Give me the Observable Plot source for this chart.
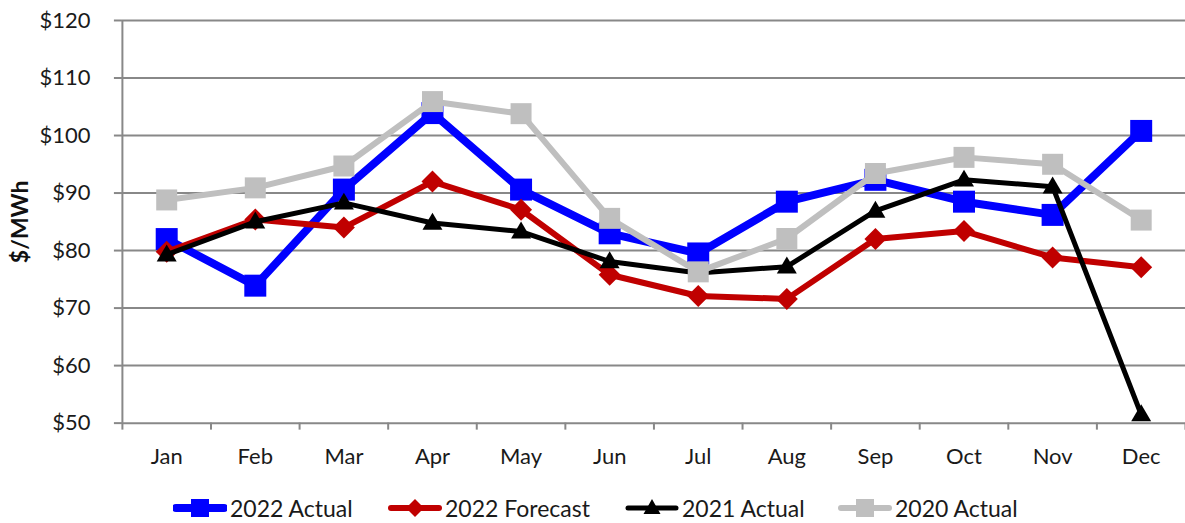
<!DOCTYPE html>
<html>
<head>
<meta charset="utf-8">
<script src="https://cdn.jsdelivr.net/npm/d3@7"></script>
<script src="https://cdn.jsdelivr.net/npm/@observablehq/plot@0.6"></script>
<style>
  html, body { margin: 0; padding: 0; background: #fff; overflow: hidden; }
  #wrap { position: relative; width: 1185px; }
  #legend { position: relative; height: 53px; font-family: Lato, "Open Sans", sans-serif; font-size: 23px; color: #1a1a1a; }
  .item { position: absolute; top: 12px; height: 53px; display: flex; align-items: center; }
  .item svg { display: block; }
  .item span { margin-left: 3px; }
</style>
</head>
<body>
<div id="wrap">
  <div id="chart"></div>
  <div id="legend"></div>
</div>
<script>
const months = ["Jan","Feb","Mar","Apr","May","Jun","Jul","Aug","Sep","Oct","Nov","Dec"];
const actual2022   = [82.0, 73.9, 90.6, 103.9, 90.6, 83.0, 79.5, 88.5, 92.3, 88.5, 86.2, 100.8];
const forecast2022 = [79.8, 85.4, 84.0, 92.0, 87.1, 75.8, 72.1, 71.6, 82.0, 83.4, 78.8, 77.1];
const actual2021   = [79.3, 85.0, 88.3, 84.8, 83.3, 78.1, 76.1, 77.2, 86.9, 92.3, 91.1, 51.5];
const actual2020   = [88.8, 90.9, 94.7, 105.9, 103.8, 85.6, 76.3, 82.1, 93.4, 96.2, 95.0, 85.3];
const yTicks = [50, 60, 70, 80, 90, 100, 110, 120];
const seriesNames = ["2022 Actual", "2022 Forecast", "2021 Actual", "2020 Actual"];

// custom marker shapes (Excel-like)
const squareSym = s => ({draw(ctx) { ctx.moveTo(-s/2,-s/2); ctx.lineTo(s/2,-s/2); ctx.lineTo(s/2,s/2); ctx.lineTo(-s/2,s/2); ctx.closePath(); }});
const diamondSym = s => ({draw(ctx) { const h = s/2; ctx.moveTo(0,-h); ctx.lineTo(h,0); ctx.lineTo(0,h); ctx.lineTo(-h,0); ctx.closePath(); }});
const triangleSym = (w, h) => ({draw(ctx) { ctx.moveTo(0,-h*0.6); ctx.lineTo(w/2,h*0.4); ctx.lineTo(-w/2,h*0.4); ctx.closePath(); }});

const series = [
  {name: seriesNames[0], values: actual2022,   color: "#0000FF", width: 8, sym: squareSym(22),      legSym: squareSym(18)},
  {name: seriesNames[1], values: forecast2022, color: "#C00000", width: 6, sym: diamondSym(22),     legSym: diamondSym(18)},
  {name: seriesNames[2], values: actual2021,   color: "#000000", width: 5, sym: triangleSym(20, 17), legSym: triangleSym(17, 15)},
  {name: seriesNames[3], values: actual2020,   color: "#BFBFBF", width: 6, sym: squareSym(21),      legSym: squareSym(18)}
];

const rows = s => s.values.map((v, i) => ({i, v, month: months[i]}));
const boundaries = d3.range(0, 13).map(k => k - 0.5);
const gridColor = "#888888";

const marks = [
  Plot.gridY(yTicks, {stroke: gridColor, strokeOpacity: 1, strokeWidth: 2}),
  Plot.axisY({ticks: yTicks, tickFormat: d => "$" + d, tickSize: 8, tickPadding: 24, stroke: gridColor, strokeWidth: 2, fontSize: 22, label: null}),
  Plot.ruleX([-0.5], {stroke: gridColor, strokeWidth: 2}),
  Plot.axisX({ticks: boundaries, tickSize: 7, tickFormat: () => "", stroke: gridColor, strokeWidth: 2, label: null}),
  Plot.axisX({ticks: d3.range(12), tickSize: 0, tickPadding: 25, tickFormat: i => months[i], fontSize: 22, label: null}),
  Plot.text(["$/MWh"], {frameAnchor: "left", dx: -102, rotate: -90, textAnchor: "middle", lineAnchor: "middle", fontWeight: "bold", fontSize: 23, fill: "#111"})
];
for (const s of series) {
  marks.push(Plot.line(rows(s), {x: "i", y: "v", stroke: s.color, strokeWidth: s.width, strokeLinejoin: "round", strokeLinecap: "round"}));
  marks.push(Plot.dot(rows(s), {x: "i", y: "v", symbol: s.sym, fill: s.color, stroke: "none", r: 10}));
}

const chart = Plot.plot({
  width: 1186,
  height: 470,
  marginLeft: 122,
  marginRight: 0,
  marginTop: 20,
  marginBottom: 47,
  x: {type: "linear", domain: [-0.5, 11.5], axis: null, label: null},
  y: {type: "linear", domain: [50, 120], axis: null, label: null},
  style: {fontFamily: "Lato, 'Open Sans', sans-serif", fontSize: "22px", color: "#1a1a1a", background: "white", overflow: "visible"},
  marks
});
document.getElementById("chart").appendChild(chart);

// legend
const legend = d3.select("#legend");
const lefts = [173, 388, 625, 838];
series.forEach((s, k) => {
  const item = legend.append("div").attr("class", "item").style("left", lefts[k] + "px");
  const svg = item.append("svg").attr("width", 54).attr("height", 24);
  svg.append("line").attr("x1", 3).attr("x2", 51).attr("y1", 12).attr("y2", 12)
    .attr("stroke", s.color).attr("stroke-width", s.width).attr("stroke-linecap", "round");
  const p = d3.path(); s.legSym.draw(p);
  svg.append("path").attr("d", p.toString()).attr("transform", "translate(27,12)").attr("fill", s.color);
  item.append("span").text(s.name);
});
</script>
</body>
</html>
